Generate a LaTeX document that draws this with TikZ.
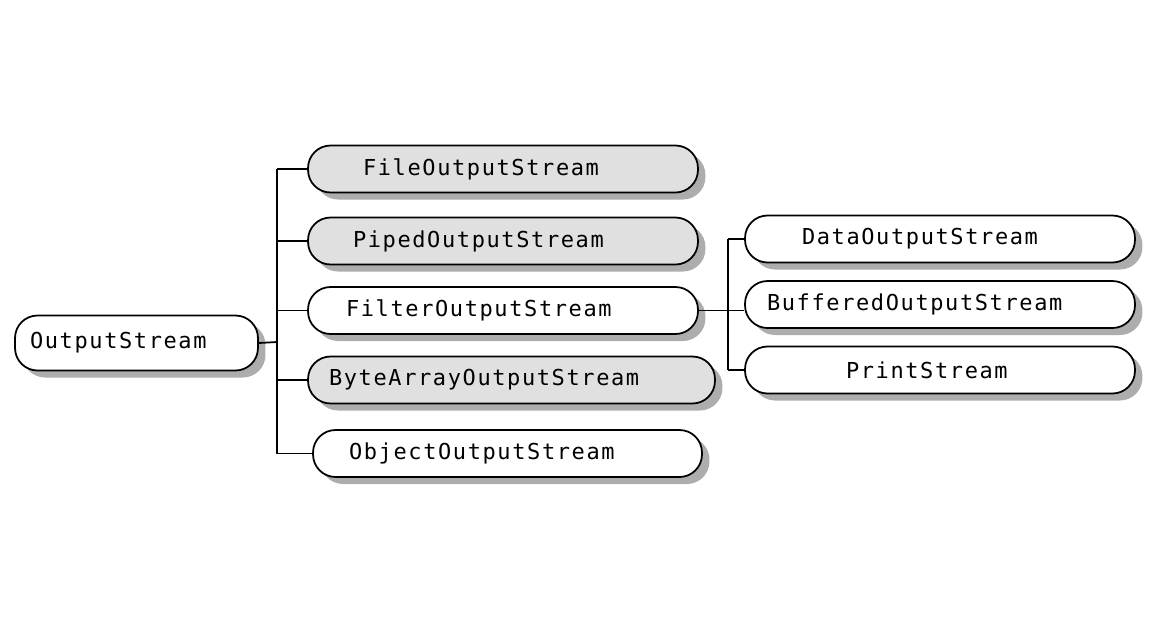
\documentclass[tikz,border=0pt]{standalone}
\usepackage{fontspec}
\newfontfamily\classfont[LetterSpace=7.4]{DejaVu Sans Mono}
\usetikzlibrary{shadows}

\begin{document}
\begin{tikzpicture}[
    x=0.02cm, y=-0.02cm,
    every node/.style={
        draw,
        line width=1pt,
        rounded corners=0.45cm,
        fill=white,
        align=left,
        inner xsep=0pt,
        inner ysep=0pt,
        minimum height=0.94cm,
        font={\classfont\fontsize{12.5}{15}\selectfont},
        drop shadow={shadow xshift=0.15cm, shadow yshift=-0.14cm, fill=black!32, opacity=1}
    },
    greyclass/.style={fill=black!12},
    link/.style={line width=1pt}
]
\useasboundingbox (0,0) rectangle (1156,637);

% ------------------------
% Root class
% ------------------------
\node[minimum height=1.1cm, text width=4.86cm] (output) at (136.5,343) {\hspace*{0.30cm}OutputStream};

% ------------------------
% Direct subclasses
% ------------------------
\node[greyclass, text width=7.80cm] (file) at (503,169) {\hspace*{1.10cm}FileOutputStream};
\node[greyclass, text width=7.80cm] (piped) at (503,241) {\hspace*{0.90cm}PipedOutputStream};
\node[text width=7.80cm] (filter) at (503,310.5) {\hspace*{0.76cm}FilterOutputStream};
\node[greyclass, text width=8.14cm] (bytearray) at (511.5,380) {\hspace*{0.42cm}ByteArrayOutputStream};
\node[text width=7.78cm] (object) at (507.5,453.5) {\hspace*{0.72cm}ObjectOutputStream};

% ------------------------
% Filter subclasses
% ------------------------
\node[text width=7.80cm] (data) at (940,239) {\hspace*{1.14cm}DataOutputStream};
\node[text width=7.80cm] (buffered) at (940,304.5) {\hspace*{0.44cm}BufferedOutputStream};
\node[text width=7.80cm] (print) at (940,370) {\hspace*{2.02cm}PrintStream};

% ------------------------
% Connectors
% ------------------------
\coordinate (fork) at (277,342);
\coordinate (fork2) at (728,310);

\draw[link] (output.east) -- (fork);
\draw[link] (fork |- file.west) -- (fork |- object.west);
\foreach \cls in {file, piped, filter, bytearray, object}
    \draw[link] (fork |- \cls.west) -- (\cls.west);

\draw[link] (filter.east) -- (filter.east -| buffered.west);
\draw[link] (fork2 |- data.west) -- (fork2 |- print.west);
\draw[link] (fork2 |- data.west) -- (data.west);
\draw[link] (fork2 |- print.west) -- (print.west);

\end{tikzpicture}
\end{document}
